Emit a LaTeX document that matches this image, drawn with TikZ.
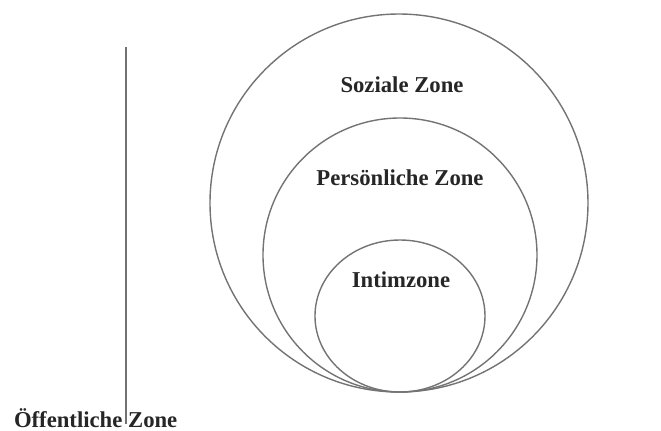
\documentclass[tikz,border=0pt]{standalone}
\usepackage{fontspec}
\setmainfont{Liberation Serif}
\begin{document}
\begin{tikzpicture}[x=0.5pt, y=-0.5pt,
    zone/.style={draw=black!55, line width=0.7pt},
    zonelabel/.style={font=\bfseries\fontsize{11.35}{13}\selectfont, inner sep=0, outer sep=0, text=black!85}]
      \useasboundingbox (0,0) rectangle (661,430);

      % circles, all touching at the bottom
      \draw[zone] (399,203) circle [radius=189];
      \draw[zone] (400,255) circle [radius=137];
      \draw[zone] (400,316) ellipse [x radius=85, y radius=76];

      \node[zonelabel] (sozial) at (402,85) {Soziale Zone};
      \node[zonelabel] (persoenlich) at (400,178) {Persönliche Zone};
      \node[zonelabel] (intim) at (401,280) {Intimzone};

      \node[zonelabel, anchor=base west] (oeffentlich) at (14,427) {Öffentliche Zone};
      \coordinate (grenze-o) at (126,47);
      \coordinate (grenze-u) at (126,424);
      \draw[zone] (grenze-o) -- (grenze-u);
    \end{tikzpicture}
\end{document}
